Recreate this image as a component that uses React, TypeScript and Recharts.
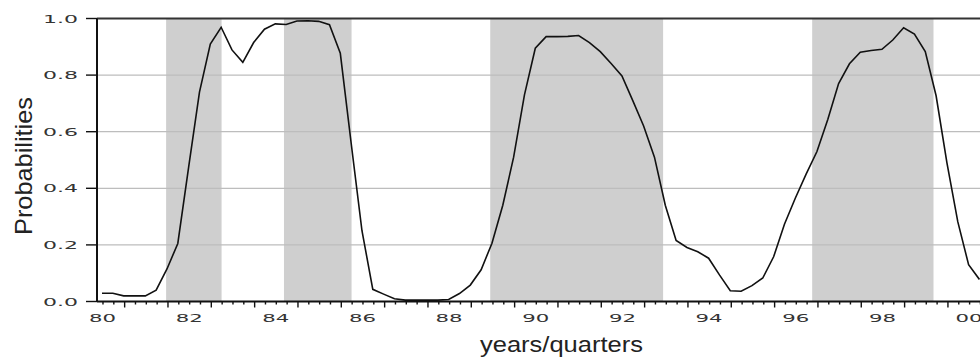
import React from 'react';
import { LineChart, Line, XAxis, YAxis, ReferenceArea, ReferenceLine } from 'recharts';

if (typeof document !== 'undefined') {
  document.body.style.margin = '0';
  document.body.style.overflow = 'hidden';
}

// Quarterly probabilities, 1980Q1 onwards
const firstYear = 80;
const probabilities = [
  0.029, 0.029, 0.02, 0.02, 0.02, 0.04, 0.115, 0.205,
  0.475, 0.74, 0.91, 0.969, 0.889, 0.845, 0.915, 0.962,
  0.981, 0.979, 0.991, 0.992, 0.99, 0.978, 0.877, 0.56,
  0.25, 0.043, 0.026, 0.01, 0.005, 0.005, 0.005, 0.005,
  0.007, 0.028, 0.058, 0.112, 0.206, 0.34, 0.51, 0.73,
  0.895, 0.936, 0.936, 0.937, 0.94, 0.915, 0.883, 0.841,
  0.797, 0.71, 0.62, 0.51, 0.34, 0.216, 0.191, 0.176,
  0.153, 0.094, 0.038, 0.036, 0.056, 0.083, 0.158, 0.273,
  0.365, 0.45, 0.53, 0.643, 0.77, 0.84, 0.881, 0.887,
  0.891, 0.924, 0.967, 0.945, 0.883, 0.727, 0.49, 0.282,
  0.13, 0.078,
];

// Shaded periods (in years)
const shadedFrom = [81.48, 84.2, 88.96, 96.39];
const shadedTo = [82.76, 85.76, 92.95, 99.19];

const xTickYears = [80, 82, 84, 86, 88, 90, 92, 94, 96, 98, 100];
const xTickLabels = ['80', '82', '84', '86', '88', '90', '92', '94', '96', '98', '00'];
const yTicks = [0, 0.2, 0.4, 0.6, 0.8, 1.0];
const yTickLabels = ['0.0', '0.2', '0.4', '0.6', '0.8', '1.0'];
const gridValues = [0.2, 0.4, 0.6, 0.8];

const data = probabilities.map((v, i) => ({ t: firstYear + i / 4, v }));
const quarterTicks = data.map((d) => d.t);

const tickFont = '"DejaVu Sans", sans-serif';
const titleFont = '"Liberation Sans", Arial, sans-serif';

const XTick = (props: any) => {
  const { x, y, payload } = props;
  const t = payload.value as number;
  const q = Math.round((t - Math.floor(t)) * 4);
  const len = q === 2 ? 6 : 3;
  const idx = xTickYears.findIndex((yr) => Math.abs(yr - t) < 1e-6);
  return (
    <g>
      <line x1={x + 1} y1={y} x2={x + 1} y2={y + len} stroke="#111" strokeWidth={1.4} />
      {idx >= 0 && (
        <text
          x={x - 13}
          y={y + 20.5}
          fontFamily={tickFont}
          fontSize={11}
          fill="#333"
          textLength={27}
          lengthAdjust="spacingAndGlyphs"
        >
          {xTickLabels[idx]}
        </text>
      )}
    </g>
  );
};

const YTick = (props: any) => {
  const { x, y, payload } = props;
  const idx = yTicks.findIndex((v) => Math.abs(v - payload.value) < 1e-6);
  return (
    <g>
      <line x1={x - 11} y1={y} x2={x} y2={y} stroke="#111" strokeWidth={1.4} />
      <text
        x={x - 54}
        y={y + 4}
        fontFamily={tickFont}
        fontSize={11}
        fill="#333"
        textLength={35}
        lengthAdjust="spacingAndGlyphs"
      >
        {idx >= 0 ? yTickLabels[idx] : ''}
      </text>
    </g>
  );
};

const XTitle = (props: any) => {
  const vb = props.viewBox || { x: 97, y: 301.5 };
  return (
    <text
      x={vb.x + 383}
      y={vb.y + 50.5}
      fontFamily={titleFont}
      fontSize={22}
      fill="#222"
      textLength={163}
      lengthAdjust="spacingAndGlyphs"
    >
      years/quarters
    </text>
  );
};

const YTitle = (props: any) => {
  const vb = props.viewBox || { x: 0, y: 18.5 };
  const cx = vb.x + 32;
  const cy = vb.y + 147.5;
  return (
    <text
      transform={`translate(${cx}, ${cy}) rotate(-90)`}
      x={-69}
      y={0}
      fontFamily={titleFont}
      fontSize={24}
      fill="#222"
      textLength={138}
      lengthAdjust="spacingAndGlyphs"
    >
      Probabilities
    </text>
  );
};

export default function App() {
  return (
    <LineChart
      width={980}
      height={358}
      data={data}
      margin={{ top: 18.5, right: 0, bottom: 0, left: 0 }}
    >
      <XAxis
        dataKey="t"
        type="number"
        domain={[79.885, 100.263]}
        allowDataOverflow
        ticks={quarterTicks}
        interval={0}
        tickSize={0}
        tickMargin={0}
        tickLine={false}
        tick={<XTick />}
        axisLine={{ stroke: '#111', strokeWidth: 2 }}
        height={56.5}
        label={{ content: <XTitle /> }}
      />
      <YAxis
        type="number"
        domain={[0, 1]}
        ticks={yTicks}
        interval={0}
        tickSize={0}
        tickMargin={0}
        tickLine={false}
        tick={<YTick />}
        axisLine={{ stroke: '#111', strokeWidth: 2 }}
        width={97}
        label={{ content: <YTitle /> }}
      />
      {shadedFrom.map((f, i) => (
        <ReferenceArea
          key={`s${i}`}
          x1={f}
          x2={shadedTo[i]}
          y1={0}
          y2={1}
          fill="#cfcfcf"
          fillOpacity={1}
          stroke="none"
          ifOverflow="hidden"
        />
      ))}
      {gridValues.map((g) => (
        <ReferenceLine key={`g${g}`} y={g} stroke="#bdbdbd" strokeWidth={1.2} />
      ))}
      <ReferenceLine y={1} stroke="#333" strokeWidth={2} />
      <Line
        type="linear"
        dataKey="v"
        stroke="#111"
        strokeWidth={1.6}
        dot={false}
        isAnimationActive={false}
      />
    </LineChart>
  );
}
